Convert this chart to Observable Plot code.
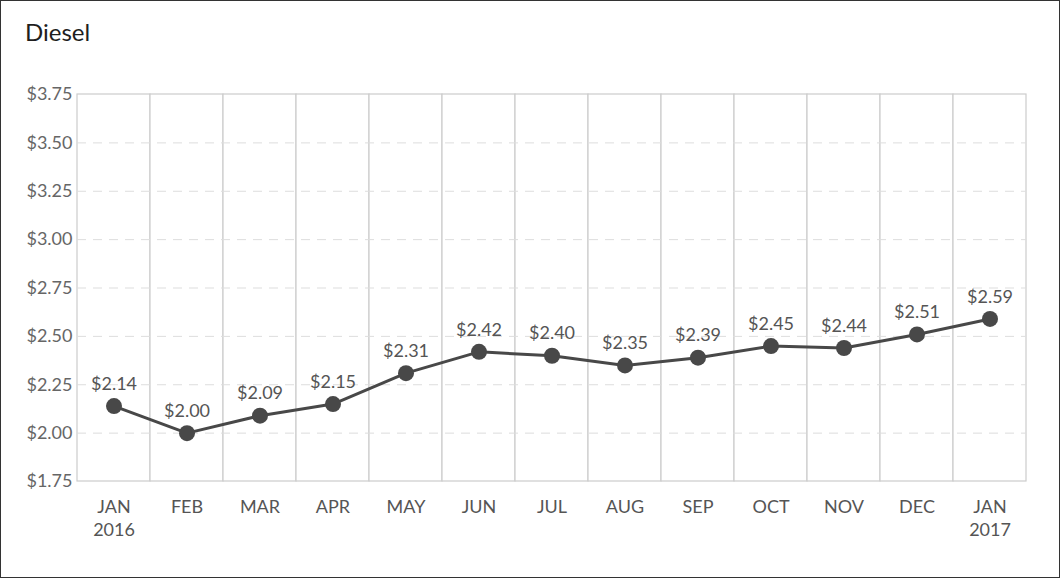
<!DOCTYPE html>
<html>
<head>
<meta charset="utf-8">
<script src="https://cdn.jsdelivr.net/npm/d3@7"></script>
<script src="https://cdn.jsdelivr.net/npm/@observablehq/plot@0.6"></script>
<style>
  html, body { margin: 0; padding: 0; background: #fff; }
  #wrap { width: 1060px; height: 578px; box-sizing: border-box; border: 1px solid #333; background: #fff; overflow: hidden; }
  #title { height: 59px; box-sizing: border-box; padding: 17px 0 0 24px; font-family: Lato, sans-serif; font-size: 24px; color: #1e1e1e; line-height: 28px; }
  svg { display: block; }
</style>
</head>
<body>
<div id="wrap">
  <div id="title">Diesel</div>
  <div id="chart"></div>
</div>
<script>
const months = ["JAN\n2016", "FEB", "MAR", "APR", "MAY", "JUN", "JUL", "AUG", "SEP", "OCT", "NOV", "DEC", "JAN\n2017"];
const prices = [2.14, 2.00, 2.09, 2.15, 2.31, 2.42, 2.40, 2.35, 2.39, 2.45, 2.44, 2.51, 2.59];
const yTicks = [1.75, 2.00, 2.25, 2.50, 2.75, 3.00, 3.25, 3.50, 3.75];
const fmt = d => "$" + d.toFixed(2);

const chart = Plot.plot({
  width: 1058,
  height: 516,
  marginTop: 34,
  marginBottom: 95,
  marginLeft: 76,
  marginRight: 33,
  style: { fontFamily: "Lato, sans-serif", fontSize: "18px", background: "#fff", overflow: "visible" },
  x: { type: "band", domain: months, padding: 0 },
  y: { domain: [1.75, 3.75] },
  marks: [
    Plot.cell(months, { x: d => d, fill: "white", stroke: "#cccccc", strokeWidth: 1.2, inset: 0 }),
    Plot.gridY(yTicks.slice(1, -1), { stroke: "#dddddd", strokeOpacity: 1, strokeDasharray: "9,7" }),
    Plot.axisY(yTicks, { tickSize: 0, tickPadding: 5, tickFormat: fmt, label: null, fill: "#666" }),
    Plot.axisX({ tickSize: 0, tickPadding: 14, label: null, fill: "#555", lineHeight: 1.33 }),
    Plot.line(prices, { x: months, y: prices, stroke: "#484848", strokeWidth: 3 }),
    Plot.dot(prices, { x: months, y: prices, r: 8, fill: "#484848", stroke: "none" }),
    Plot.text(prices, { x: months, y: prices, text: fmt, dy: -22, fill: "#555" })
  ]
});
document.getElementById("chart").appendChild(chart);
</script>
</body>
</html>
